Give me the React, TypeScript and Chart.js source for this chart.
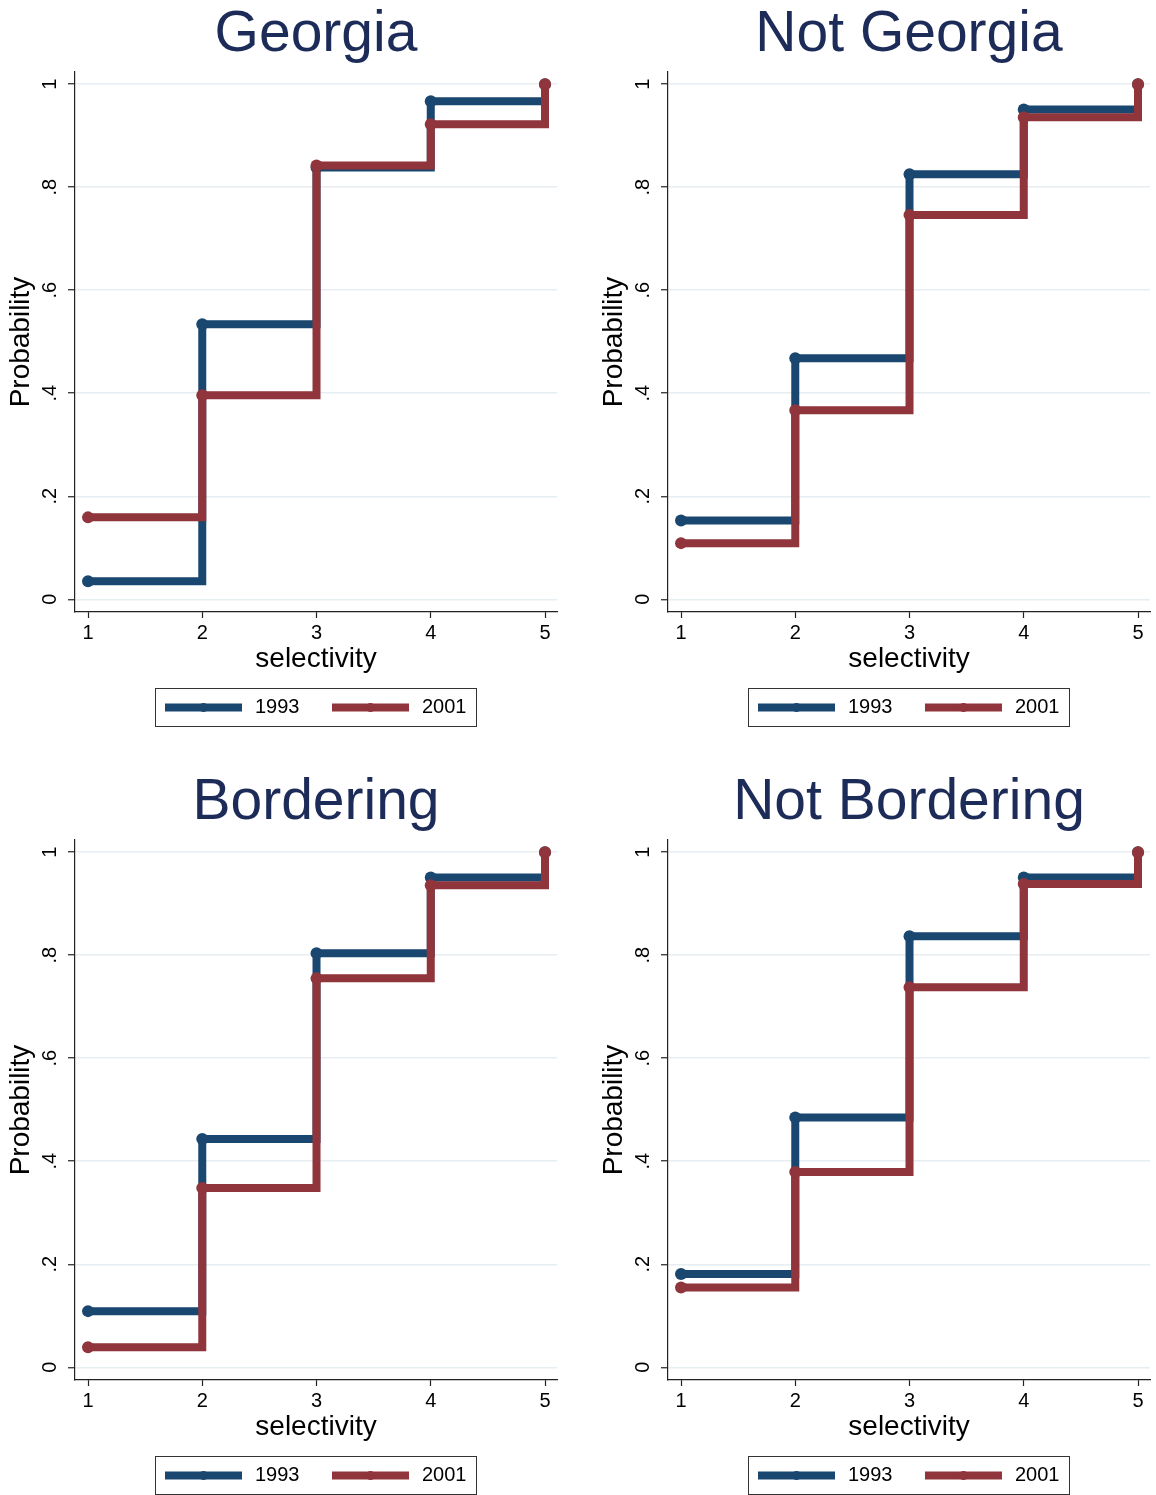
import React, { useEffect, useRef } from 'react';
import { Chart, registerables } from 'chart.js';

Chart.register(...registerables);

// ---------- data ----------
const selectivity = [1, 2, 3, 4, 5];
const seriesLabels = ['1993', '2001'];
const panelTitles = ['Georgia', 'Not Georgia', 'Bordering', 'Not Bordering'];

const georgia1993 = [0.035, 0.534, 0.838, 0.967, 1.0];
const georgia2001 = [0.159, 0.396, 0.842, 0.922, 1.0];
const notGeorgia1993 = [0.153, 0.468, 0.825, 0.951, 1.0];
const notGeorgia2001 = [0.109, 0.367, 0.746, 0.936, 1.0];
const bordering1993 = [0.109, 0.443, 0.804, 0.951, 1.0];
const bordering2001 = [0.039, 0.348, 0.755, 0.936, 1.0];
const notBordering1993 = [0.181, 0.485, 0.837, 0.951, 1.0];
const notBordering2001 = [0.155, 0.379, 0.738, 0.938, 1.0];

const xTicks = [1, 2, 3, 4, 5];
const yTicks = [0, 0.2, 0.4, 0.6, 0.8, 1];
const yTickLabels = ['0', '.2', '.4', '.6', '.8', '1'];
const xAxisTitle = 'selectivity';
const yAxisTitle = 'Probability';

const panelSeries = [
  [georgia1993, georgia2001],
  [notGeorgia1993, notGeorgia2001],
  [bordering1993, bordering2001],
  [notBordering1993, notBordering2001],
];

// ---------- style ----------
const FONT = "'Liberation Sans', Arial, Helvetica, sans-serif";
const COLORS = ['#1a476f', '#90353b'];
const TITLE_COLOR = '#1c2b58';
const GRID_COLOR = '#e7eef2';
const AXIS_COLOR = '#222222';
const CANVAS_W = 563;
const CANVAS_H = 727;

const stataExtras = {
  id: 'stataExtras',
  afterDraw(chart: any) {
    const ctx: CanvasRenderingContext2D = chart.ctx;
    const area = chart.chartArea;
    const yScale = chart.scales.y;
    ctx.save();
    // rotated y tick labels
    ctx.fillStyle = '#000';
    ctx.font = `20px ${FONT}`;
    ctx.textAlign = 'center';
    ctx.textBaseline = 'middle';
    yTicks.forEach((v, i) => {
      const py = yScale.getPixelForValue(v);
      ctx.save();
      ctx.translate(area.left - 25, py);
      ctx.rotate(-Math.PI / 2);
      ctx.fillText(yTickLabels[i], 0, 0);
      ctx.restore();
    });

    // legend box
    const datasets = chart.data.datasets;
    const sampleW = 77;
    const gapText = 13;
    const itemGap = 32.5;
    const pad = 10;
    ctx.font = `20px ${FONT}`;
    const widths = datasets.map((d: any) => ctx.measureText(d.label).width);
    let total = 2 * pad + itemGap * (datasets.length - 1);
    widths.forEach((w: number) => (total += sampleW + gapText + w));
    const cx = (area.left + area.right) / 2;
    const boxLeft = Math.round(cx - total / 2);
    const boxTop = Math.round(area.bottom + 76);
    const boxH = 38;
    ctx.strokeStyle = '#333';
    ctx.lineWidth = 1;
    ctx.strokeRect(boxLeft + 0.5, boxTop + 0.5, Math.round(total), boxH);
    const midY = boxTop + boxH / 2 + 0.5;
    let x = boxLeft + pad;
    datasets.forEach((d: any, i: number) => {
      ctx.strokeStyle = d.borderColor;
      ctx.lineWidth = 8;
      ctx.lineCap = 'butt';
      ctx.beginPath();
      ctx.moveTo(x, midY);
      ctx.lineTo(x + sampleW, midY);
      ctx.stroke();
      ctx.fillStyle = d.borderColor;
      ctx.beginPath();
      ctx.arc(x + sampleW / 2, midY, 4.5, 0, Math.PI * 2);
      ctx.fill();
      ctx.fillStyle = '#000';
      ctx.textAlign = 'left';
      ctx.textBaseline = 'middle';
      ctx.fillText(d.label, x + sampleW + gapText, midY);
      x += sampleW + gapText + widths[i] + itemGap;
    });
    ctx.restore();
  },
};

function Panel({ title, series }: { title: string; series: number[][] }) {
  const ref = useRef<HTMLCanvasElement | null>(null);
  useEffect(() => {
    if (!ref.current) return;
    const chart = new Chart(ref.current, {
      type: 'line',
      data: {
        datasets: series.map((vals, i) => ({
          label: seriesLabels[i],
          data: selectivity.map((s, j) => ({ x: s, y: vals[j] })),
          borderColor: COLORS[i],
          backgroundColor: COLORS[i],
          pointBackgroundColor: COLORS[i],
          pointBorderColor: COLORS[i],
          borderWidth: 8,
          pointRadius: 6,
          pointBorderWidth: 0,
          pointHoverRadius: 6,
          stepped: true,
          fill: false,
          clip: false,
          order: series.length - 1 - i,
        })),
      },
      options: {
        animation: false,
        responsive: false,
        maintainAspectRatio: false,
        events: [],
        layout: { padding: { left: 0, right: 5, top: 0, bottom: 45 } },
        plugins: {
          legend: { display: false },
          tooltip: { enabled: false },
          title: {
            display: true,
            text: title,
            fullSize: false,
            color: TITLE_COLOR,
            font: { family: FONT, size: 57, weight: 'normal', lineHeight: 1.123 },
            padding: { top: 3, bottom: 5 },
          },
        },
        scales: {
          x: {
            type: 'linear',
            min: 0.886,
            max: 5.105,
            afterBuildTicks: (s: any) => {
              s.ticks = xTicks.map((v) => ({ value: v }));
            },
            afterFit: (s: any) => {
              s.height = 70;
            },
            grid: {
              drawOnChartArea: false,
              drawTicks: true,
              tickLength: 6,
              tickColor: AXIS_COLOR,
              tickWidth: 1.2,
            },
            border: { display: true, color: AXIS_COLOR, width: 1.2 },
            ticks: {
              color: '#000',
              font: { family: FONT, size: 20 },
              padding: 3,
              maxRotation: 0,
              autoSkip: false,
              callback: (v: any) => String(v),
            },
            title: {
              display: true,
              text: xAxisTitle,
              color: '#000',
              font: { family: FONT, size: 28 },
              padding: { top: 0, bottom: 6 },
            },
          },
          y: {
            type: 'linear',
            min: -0.0247,
            max: 1.0236,
            afterBuildTicks: (s: any) => {
              s.ticks = yTicks.map((v) => ({ value: v }));
            },
            afterFit: (s: any) => {
              s.width = 75;
            },
            grid: {
              drawOnChartArea: true,
              drawTicks: true,
              tickLength: 7,
              color: GRID_COLOR,
              lineWidth: 1.5,
              tickColor: AXIS_COLOR,
              tickWidth: 1.2,
            },
            border: { display: true, color: AXIS_COLOR, width: 1.2 },
            ticks: { display: false },
            title: {
              display: true,
              text: yAxisTitle,
              color: '#000',
              font: { family: FONT, size: 28 },
              padding: { top: 4, bottom: 0 },
            },
          },
        },
      } as any,
      plugins: [stataExtras],
    });
    return () => chart.destroy();
  }, [title, series]);
  return <canvas ref={ref} width={CANVAS_W} height={CANVAS_H} style={{ display: 'block' }} />;
}

export default function App() {
  useEffect(() => {
    document.body.style.margin = '0';
    document.body.style.background = '#fff';
  }, []);
  const positions = [
    { left: 0, top: 0 },
    { left: 593, top: 0 },
    { left: 0, top: 768 },
    { left: 593, top: 768 },
  ];
  return (
    <div style={{ position: 'relative', width: 1156, height: 1495, overflow: 'hidden', background: '#fff' }}>
      {panelTitles.map((t, i) => (
        <div key={t} style={{ position: 'absolute', left: positions[i].left, top: positions[i].top }}>
          <Panel title={t} series={panelSeries[i]} />
        </div>
      ))}
    </div>
  );
}
